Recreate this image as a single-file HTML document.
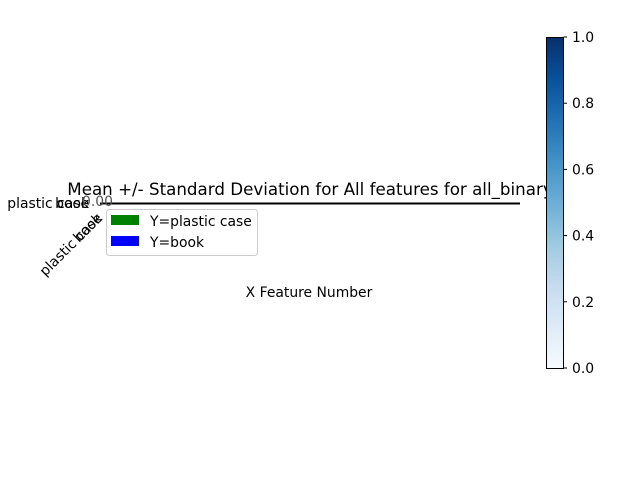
<!DOCTYPE html>
<html><head><meta charset="utf-8"><style>
html,body{margin:0;padding:0;background:#fff;}
svg{display:block;font-family:"DejaVu Sans","Liberation Sans",sans-serif;}
</style></head><body>
<svg id="chart" width="640" height="480" viewBox="0 0 640 480">
<defs>
<linearGradient id="blues" x1="0" y1="1" x2="0" y2="0">
<stop offset="0" stop-color="#f7fbff"/><stop offset="0.125" stop-color="#deebf7"/>
<stop offset="0.25" stop-color="#c6dbef"/><stop offset="0.375" stop-color="#9ecae1"/>
<stop offset="0.5" stop-color="#6baed6"/><stop offset="0.625" stop-color="#4292c6"/>
<stop offset="0.75" stop-color="#2171b5"/><stop offset="0.875" stop-color="#08519c"/>
<stop offset="1" stop-color="#08306b"/>
</linearGradient>
</defs>
<text x="310" y="195" font-size="16.7" text-anchor="middle">Mean +/- Standard Deviation for All features for all_binary</text>
<line x1="100" y1="203.5" x2="520" y2="203.5" stroke="#000" stroke-width="2"/>
<g id="yticks"></g>
<g id="xticks"></g>
<text x="82" y="206" font-size="13.9" fill="#555">0.00</text>
<text x="309" y="297" font-size="13.9" text-anchor="middle">X Feature Number</text>
<g>
<rect x="106.5" y="209.5" width="151" height="46" rx="3" fill="#fff" stroke="#ccc"/>
<rect x="111" y="215" width="28" height="10" fill="green"/>
<text x="150" y="226" font-size="13.9">Y=plastic case</text>
<rect x="111" y="236" width="28" height="10" fill="blue"/>
<text x="150" y="247" font-size="13.9">Y=book</text>
</g>
<rect x="546.5" y="37.5" width="17" height="331" fill="url(#blues)" stroke="#000" stroke-width="1"/>
<g id="cbticks"></g>
</svg>
<script>
const categories = ["plastic case", "book"];
const cbTicks = [0.0, 0.2, 0.4, 0.6, 0.8, 1.0];
const cbLabels = ["0.0", "0.2", "0.4", "0.6", "0.8", "1.0"];
const NS = "http://www.w3.org/2000/svg";
const cbY = v => 368 - v * 331;
const yt = document.getElementById('yticks');
categories.forEach(c => {
  const t = document.createElementNS(NS, 'text');
  
  
  t.setAttribute('x', 89); t.setAttribute('y', 208);
  t.setAttribute('font-size', 13.9); t.setAttribute('text-anchor', 'end');
  t.textContent = c; yt.appendChild(t);
});
const xt = document.getElementById('xticks');
categories.forEach(c => {
  const t = document.createElementNS(NS, 'text');
  
  
  t.setAttribute('font-size', 13.9); t.setAttribute('text-anchor', 'end');
  t.setAttribute('transform', 'translate(103,219) rotate(-45)');
  t.textContent = c; xt.appendChild(t);
});
const cb = document.getElementById('cbticks');
cbTicks.forEach((v, i) => {
  const y = cbY(v);
  const l = document.createElementNS(NS, 'line');
  
  
  l.setAttribute('x1', 563.5); l.setAttribute('x2', 567); l.setAttribute('y1', y); l.setAttribute('y2', y);
  l.setAttribute('stroke', '#000'); cb.appendChild(l);
  const t = document.createElementNS(NS, 'text');
  
  
  t.setAttribute('x', 572); t.setAttribute('y', y + 5); t.setAttribute('font-size', 13.9);
  t.textContent = cbLabels[i]; cb.appendChild(t);
});
</script>
</body></html>
